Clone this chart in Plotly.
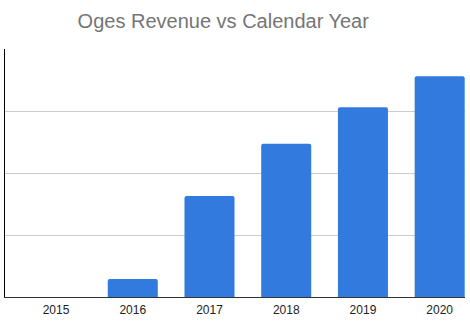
import plotly.graph_objects as go

years = ["2015", "2016", "2017", "2018", "2019", "2020"]
revenue = [0, 29, 163, 247, 306, 356]
grid_vals = [0, 100, 200, 300, 400]

fig = go.Figure(go.Bar(x=years, y=revenue, marker_color="#327ADE", marker_line_width=0))

fig.update_layout(
    width=470, height=330, autosize=False,
    margin=dict(l=5, r=5, t=49, b=33, autoexpand=False),
    paper_bgcolor="white", plot_bgcolor="white",
    bargap=0.348,
    barcornerradius=2,
    showlegend=False,
    font=dict(family="Liberation Sans, Arial, sans-serif"),
    title=dict(text="Oges Revenue vs Calendar Year", x=0.475, xanchor="center",
               y=1 - 21 / 330, yanchor="middle",
               font=dict(size=20, color="#757575", family="Liberation Sans, Arial, sans-serif")),
)
fig.update_xaxes(showline=True, linecolor="#333333", linewidth=1, ticks="",
                 range=[-0.665, 5.33], ticklabelstandoff=2,
                 tickfont=dict(size=12, color="#222222"), showgrid=False)
fig.update_yaxes(range=[0, 400], tickvals=grid_vals, showticklabels=False,
                 showgrid=True, gridcolor="#cccccc", gridwidth=1,
                 showline=True, linecolor="#000000", linewidth=1,
                 zeroline=False, ticks="")

fig.write_html("out.html", config={"responsive": False})
